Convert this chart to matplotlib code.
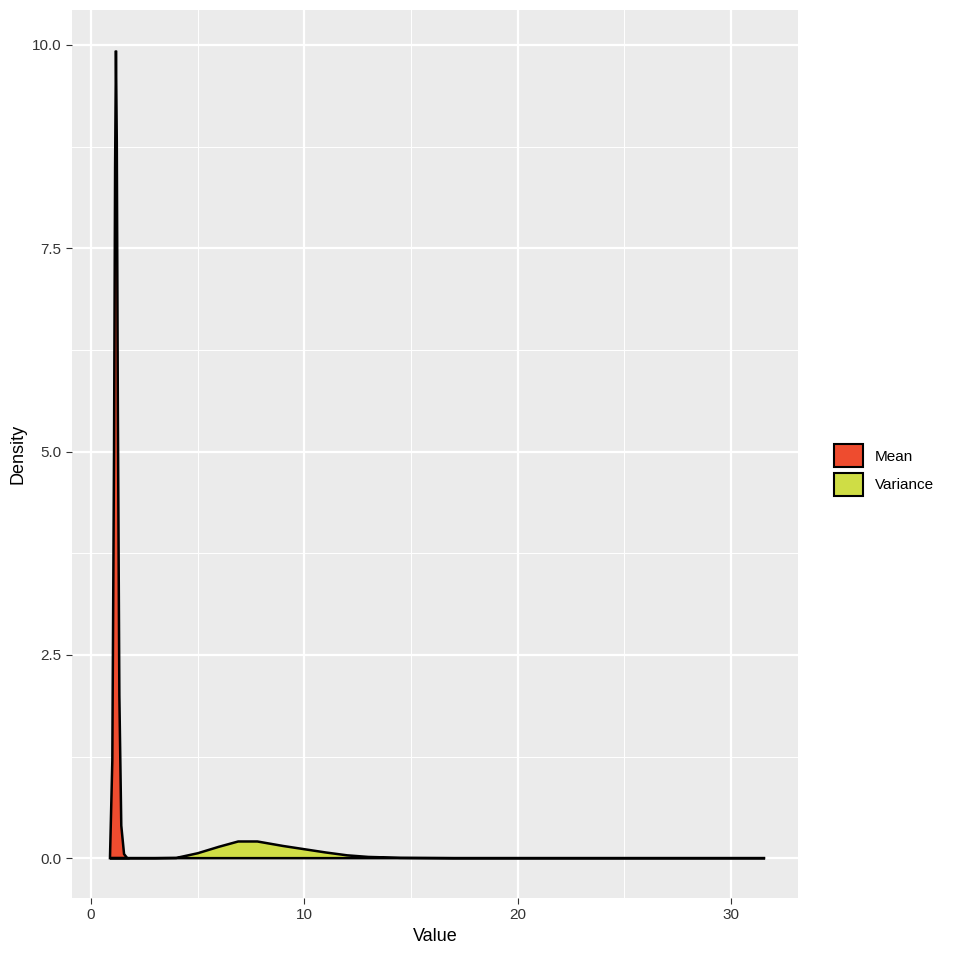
import matplotlib.pyplot as plt
from matplotlib.patches import Patch

mean_x = [0.89, 1.0, 1.08, 1.13, 1.17, 1.21, 1.26, 1.33, 1.42, 1.55, 1.7]
mean_y = [0.0, 1.2, 5.0, 8.5, 9.93, 8.8, 5.5, 2.0, 0.4, 0.05, 0.0]

var_x = [0.89, 3.0, 4.0, 5.0, 6.0, 6.9, 7.8, 9.0, 10.0, 11.0, 12.0, 13.0, 14.5, 17.0, 31.6]
var_y = [0.0, 0.0, 0.003, 0.06, 0.14, 0.205, 0.205, 0.15, 0.11, 0.07, 0.035, 0.015, 0.004, 0.0, 0.0]

colors = ["#EE4C2F", "#CFDD45"]
labels = ["Mean", "Variance"]

plt.rcParams['font.family'] = ['Liberation Sans', 'DejaVu Sans']
fig = plt.figure(figsize=(9.6, 9.6), dpi=100)
ax = fig.add_axes([72/960, 62/960, 726/960, 888/960])
ax.set_facecolor("#EBEBEB")

ax.fill(mean_x + [mean_x[0]], mean_y + [0], facecolor=colors[0], edgecolor="black", linewidth=1.8, zorder=3)
ax.fill(var_x + [var_x[0]], var_y + [0], facecolor=colors[1], edgecolor="black", linewidth=1.8, zorder=3)

ax.set_xlim(-0.89, 33.14)
ax.set_ylim(-0.49, 10.43)
ax.set_xticks([0, 10, 20, 30])
ax.set_yticks([0, 2.5, 5, 7.5, 10])
ax.set_yticklabels(["0.0", "2.5", "5.0", "7.5", "10.0"])
ax.set_xticks([5, 15, 25], minor=True)
ax.set_yticks([1.25, 3.75, 6.25, 8.75], minor=True)
ax.grid(which="major", color="white", linewidth=1.6, zorder=0)
ax.grid(which="minor", color="white", linewidth=0.7, zorder=0)
ax.set_axisbelow(True)
for s in ax.spines.values():
    s.set_visible(False)
ax.tick_params(which="major", colors="#333333", labelsize=11, length=4, color="#333333")
ax.tick_params(which="minor", length=0)
ax.set_xlabel("Value", fontsize=13)
ax.set_ylabel("Density", fontsize=13)

handles = [Patch(facecolor=c, edgecolor="black", linewidth=1.5) for c in colors]
fig.legend(handles, labels, loc="center left", bbox_to_anchor=(820/960, 1 - 470/960),
           frameon=False, fontsize=11, handlelength=1.9, handleheight=1.9, handletextpad=0.8, labelspacing=0.4)

fig.savefig("out.png", dpi=100)
